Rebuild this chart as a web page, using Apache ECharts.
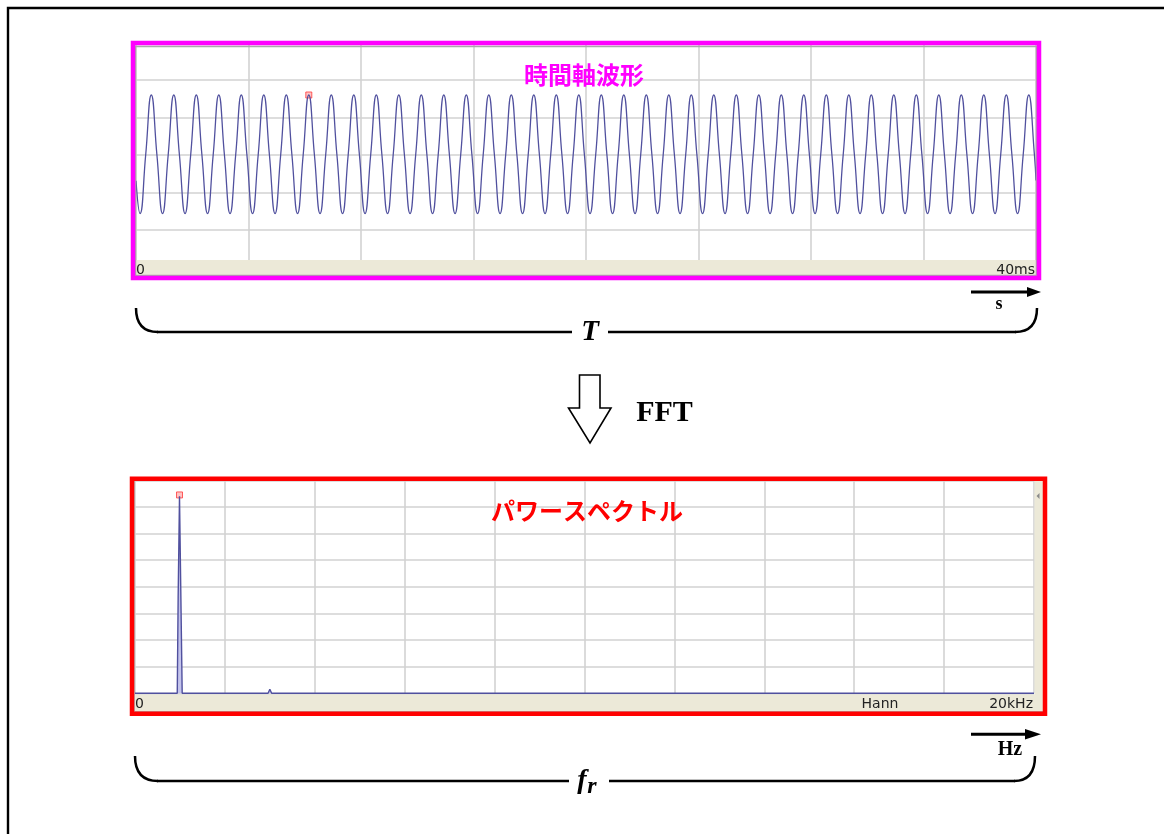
<!DOCTYPE html>
<html><head><meta charset="utf-8">
<script src="https://cdn.jsdelivr.net/npm/echarts@6/dist/echarts.min.js"></script>
<style>html,body{margin:0;padding:0;background:#fff}#c{width:1164px;height:834px}</style>
</head><body><div id="c"></div>
<script>
// ---- Time-domain waveform (ms, amplitude): extremes + zero crossings
const waveTimeMs = [
  0,
  0.18,0.43,0.68,0.93, 1.18,1.43,1.68,1.93, 2.18,2.43,2.68,2.93, 3.18,3.43,3.68,3.93,
  4.18,4.43,4.68,4.93, 5.18,5.43,5.68,5.93, 6.18,6.43,6.68,6.93, 7.18,7.43,7.68,7.93,
  8.18,8.43,8.68,8.93, 9.18,9.43,9.68,9.93, 10.18,10.43,10.68,10.93, 11.18,11.43,11.68,11.93,
  12.18,12.43,12.68,12.93, 13.18,13.43,13.68,13.93, 14.18,14.43,14.68,14.93, 15.18,15.43,15.68,15.93,
  16.18,16.43,16.68,16.93, 17.18,17.43,17.68,17.93, 18.18,18.43,18.68,18.93, 19.18,19.43,19.68,19.93,
  20.18,20.43,20.68,20.93, 21.18,21.43,21.68,21.93, 22.18,22.43,22.68,22.93, 23.18,23.43,23.68,23.93,
  24.18,24.43,24.68,24.93, 25.18,25.43,25.68,25.93, 26.18,26.43,26.68,26.93, 27.18,27.43,27.68,27.93,
  28.18,28.43,28.68,28.93, 29.18,29.43,29.68,29.93, 30.18,30.43,30.68,30.93, 31.18,31.43,31.68,31.93,
  32.18,32.43,32.68,32.93, 33.18,33.43,33.68,33.93, 34.18,34.43,34.68,34.93, 35.18,35.43,35.68,35.93,
  36.18,36.43,36.68,36.93, 37.18,37.43,37.68,37.93, 38.18,38.43,38.68,38.93, 39.18,39.43,39.68,39.93,
  40
];
const waveValue = [
  -0.69,
  -1.56,0,1.6,0, -1.56,0,1.6,0, -1.56,0,1.6,0, -1.56,0,1.6,0,
  -1.56,0,1.6,0, -1.56,0,1.6,0, -1.56,0,1.6,0, -1.56,0,1.6,0,
  -1.56,0,1.6,0, -1.56,0,1.6,0, -1.56,0,1.6,0, -1.56,0,1.6,0,
  -1.56,0,1.6,0, -1.56,0,1.6,0, -1.56,0,1.6,0, -1.56,0,1.6,0,
  -1.56,0,1.6,0, -1.56,0,1.6,0, -1.56,0,1.6,0, -1.56,0,1.6,0,
  -1.56,0,1.6,0, -1.56,0,1.6,0, -1.56,0,1.6,0, -1.56,0,1.6,0,
  -1.56,0,1.6,0, -1.56,0,1.6,0, -1.56,0,1.6,0, -1.56,0,1.6,0,
  -1.56,0,1.6,0, -1.56,0,1.6,0, -1.56,0,1.6,0, -1.56,0,1.6,0,
  -1.56,0,1.6,0, -1.56,0,1.6,0, -1.56,0,1.6,0, -1.56,0,1.6,0,
  -1.56,0,1.6,0, -1.56,0,1.6,0, -1.56,0,1.6,0, -1.56,0,1.6,0,
  -0.68
];
const waveMarkerT = [7.68];
const waveMarkerV = [1.6];

// ---- Power spectrum (kHz, power)
const specFreqKHz = [0, 0.94, 0.96, 0.99, 1.05, 2.96, 3.0, 3.04, 20];
const specPower   = [0, 0,    3.6,  7.4,  0,    0,    0.15, 0,    0];
const specMarkerF = [0.99];
const specMarkerP = [7.45];

// ---- Labels
const topTitle = '時間軸波形';
const bottomTitle = 'パワースペクトル';
const topAxisLabels = ['0', '40ms'];
const bottomAxisLabels = ['0', 'Hann', '20kHz'];

const zip = (a, b) => a.map((v, i) => [v, b[i]]);

const chart = echarts.init(document.getElementById('c'), null, {renderer: 'canvas'});
const splitStyle = {color: '#d2d2d2', width: 1.6};
const hiddenAxis = {axisLine: {show: false}, axisTick: {show: false}, axisLabel: {show: false}};

function txt(x, y, text, font, fill, align, z) {
  return {type: 'text', x: x, y: y, z: z || 60,
    style: {text: text, font: font, fill: fill, align: align || 'center', verticalAlign: 'middle',
            textAlign: align || 'center', textVerticalAlign: 'middle'}};
}
function seg(x1, y1, x2, y2, w) {
  return {type: 'line', z: 60, shape: {x1: x1, y1: y1, x2: x2, y2: y2}, style: {stroke: '#000', lineWidth: w || 2.5}};
}
function curve(x1, y1, cx, cy, x2, y2) {
  return {type: 'bezierCurve', z: 60, shape: {x1: x1, y1: y1, cpx1: cx, cpy1: cy, x2: x2, y2: y2},
    style: {fill: null, stroke: '#000', lineWidth: 2.5}};
}
const serif = '"Liberation Serif", "DejaVu Serif", serif';
const beige = '#ece9d8';

chart.setOption({
  animation: false,
  backgroundColor: '#ffffff',
  grid: [
    {left: 136, top: 42.5, width: 900, height: 225},
    {left: 135, top: 480.3, width: 899, height: 213}
  ],
  xAxis: [
    Object.assign({type: 'value', gridIndex: 0, min: 0, max: 40, interval: 5,
      splitLine: {show: true, lineStyle: splitStyle}}, hiddenAxis),
    Object.assign({type: 'value', gridIndex: 1, min: 0, max: 20, interval: 2,
      splitLine: {show: true, lineStyle: splitStyle}}, hiddenAxis)
  ],
  yAxis: [
    Object.assign({type: 'value', gridIndex: 0, min: -3, max: 3, interval: 1,
      splitLine: {show: true, lineStyle: splitStyle}}, hiddenAxis),
    Object.assign({type: 'value', gridIndex: 1, min: 0, max: 8, interval: 1,
      splitLine: {show: true, lineStyle: splitStyle}}, hiddenAxis)
  ],
  series: [
    {type: 'line', xAxisIndex: 0, yAxisIndex: 0, data: zip(waveTimeMs, waveValue),
      smooth: 0.5, symbol: 'none', lineStyle: {color: '#50509e', width: 1.3}},
    {type: 'scatter', xAxisIndex: 0, yAxisIndex: 0, data: zip(waveMarkerT, waveMarkerV),
      symbol: 'rect', symbolSize: 6, itemStyle: {color: '#ffb4b4', borderColor: '#ff3a3a', borderWidth: 1}},
    {type: 'line', xAxisIndex: 1, yAxisIndex: 1, data: zip(specFreqKHz, specPower),
      symbol: 'none', lineStyle: {color: '#50509e', width: 1.4},
      areaStyle: {color: '#c4c4ec', opacity: 1}},
    {type: 'scatter', xAxisIndex: 1, yAxisIndex: 1, data: zip(specMarkerF, specMarkerP),
      symbol: 'rect', symbolSize: 6, itemStyle: {color: '#ffb4b4', borderColor: '#ff3a3a', borderWidth: 1}}
  ],
  graphic: {elements: [
    // outer black frame
    {type: 'rect', z: 1, shape: {x: 8, y: 8, width: 1400, height: 1000},
      style: {fill: null, stroke: '#000', lineWidth: 2.4}},
    // ---- top panel
    {type: 'rect', z: 50, shape: {x: 135, y: 260, width: 902, height: 16}, style: {fill: beige}},
    {type: 'rect', z: 51, shape: {x: 135.5, y: 46.5, width: 901, height: 229},
      style: {fill: null, stroke: '#a9a9a9', lineWidth: 1.5}},
    {type: 'rect', z: 52, shape: {x: 133, y: 43, width: 906, height: 235},
      style: {fill: null, stroke: '#ff00ff', lineWidth: 4.5}},
    txt(584, 75, topTitle, 'bold 24px "Noto Sans CJK JP"', '#ff00ff'),
    txt(136, 270, topAxisLabels[0], '14px "DejaVu Sans"', '#222', 'left'),
    txt(1035, 270, topAxisLabels[1], '14px "DejaVu Sans"', '#222', 'right'),
    // ---- bottom panel
    {type: 'rect', z: 50, shape: {x: 134, y: 694.5, width: 909, height: 17}, style: {fill: beige}},
    {type: 'rect', z: 50, shape: {x: 1034.5, y: 480, width: 9, height: 215}, style: {fill: beige}},
    {type: 'polygon', z: 53, shape: {points: [[1039.5, 493], [1039.5, 499], [1036.5, 496]]}, style: {fill: '#8a8a8a'}},
    {type: 'rect', z: 51, shape: {x: 134.5, y: 480.5, width: 909, height: 231},
      style: {fill: null, stroke: '#b5b5b5', lineWidth: 1}},
    {type: 'rect', z: 52, shape: {x: 132, y: 478.7, width: 913, height: 235},
      style: {fill: null, stroke: '#ff0000', lineWidth: 4.5}},
    txt(587, 511, bottomTitle, 'bold 24px "Noto Sans CJK JP"', '#ff0000'),
    txt(135, 704, bottomAxisLabels[0], '14px "DejaVu Sans"', '#222', 'left'),
    txt(880, 704, bottomAxisLabels[1], '14px "DejaVu Sans"', '#222'),
    txt(1033, 704, bottomAxisLabels[2], '14px "DejaVu Sans"', '#222', 'right'),
    // ---- time axis arrow + brace
    seg(971, 292, 1030, 292, 3),
    {type: 'polygon', z: 60, shape: {points: [[1027, 287], [1041, 292], [1027, 297]]}, style: {fill: '#000'}},
    txt(999, 304, 's', 'bold 18px ' + serif, '#000'),
    curve(136, 308, 136, 332, 158, 332),
    seg(157, 332, 572, 332),
    seg(608, 332, 1016, 332),
    curve(1015, 332, 1037, 332, 1037, 308),
    txt(590, 333, 'T', 'italic bold 29px ' + serif, '#000'),
    // ---- FFT arrow
    {type: 'polygon', z: 60, shape: {points: [[579.5, 375], [600, 375], [600, 408], [611, 408], [590, 443], [568.5, 408], [579.5, 408]]},
      style: {fill: '#fff', stroke: '#000', lineWidth: 1.6}},
    txt(664.5, 413, 'FFT', 'bold 30px ' + serif, '#000'),
    // ---- frequency axis arrow + brace
    seg(971, 734.3, 1028, 734.3, 3),
    {type: 'polygon', z: 60, shape: {points: [[1025, 729], [1041, 734.3], [1025, 739.5]]}, style: {fill: '#000'}},
    txt(1010, 750, 'Hz', 'bold 20px ' + serif, '#000'),
    curve(135, 756, 135, 781, 158, 781),
    seg(157, 781, 569, 781),
    seg(609, 781, 1015, 781),
    curve(1014, 781, 1035, 781, 1035, 756),
    txt(582, 781, 'f', 'italic bold 28px ' + serif, '#000'),
    txt(592, 787, 'r', 'italic bold 24px ' + serif, '#000')
  ]}
});
</script></body></html>
